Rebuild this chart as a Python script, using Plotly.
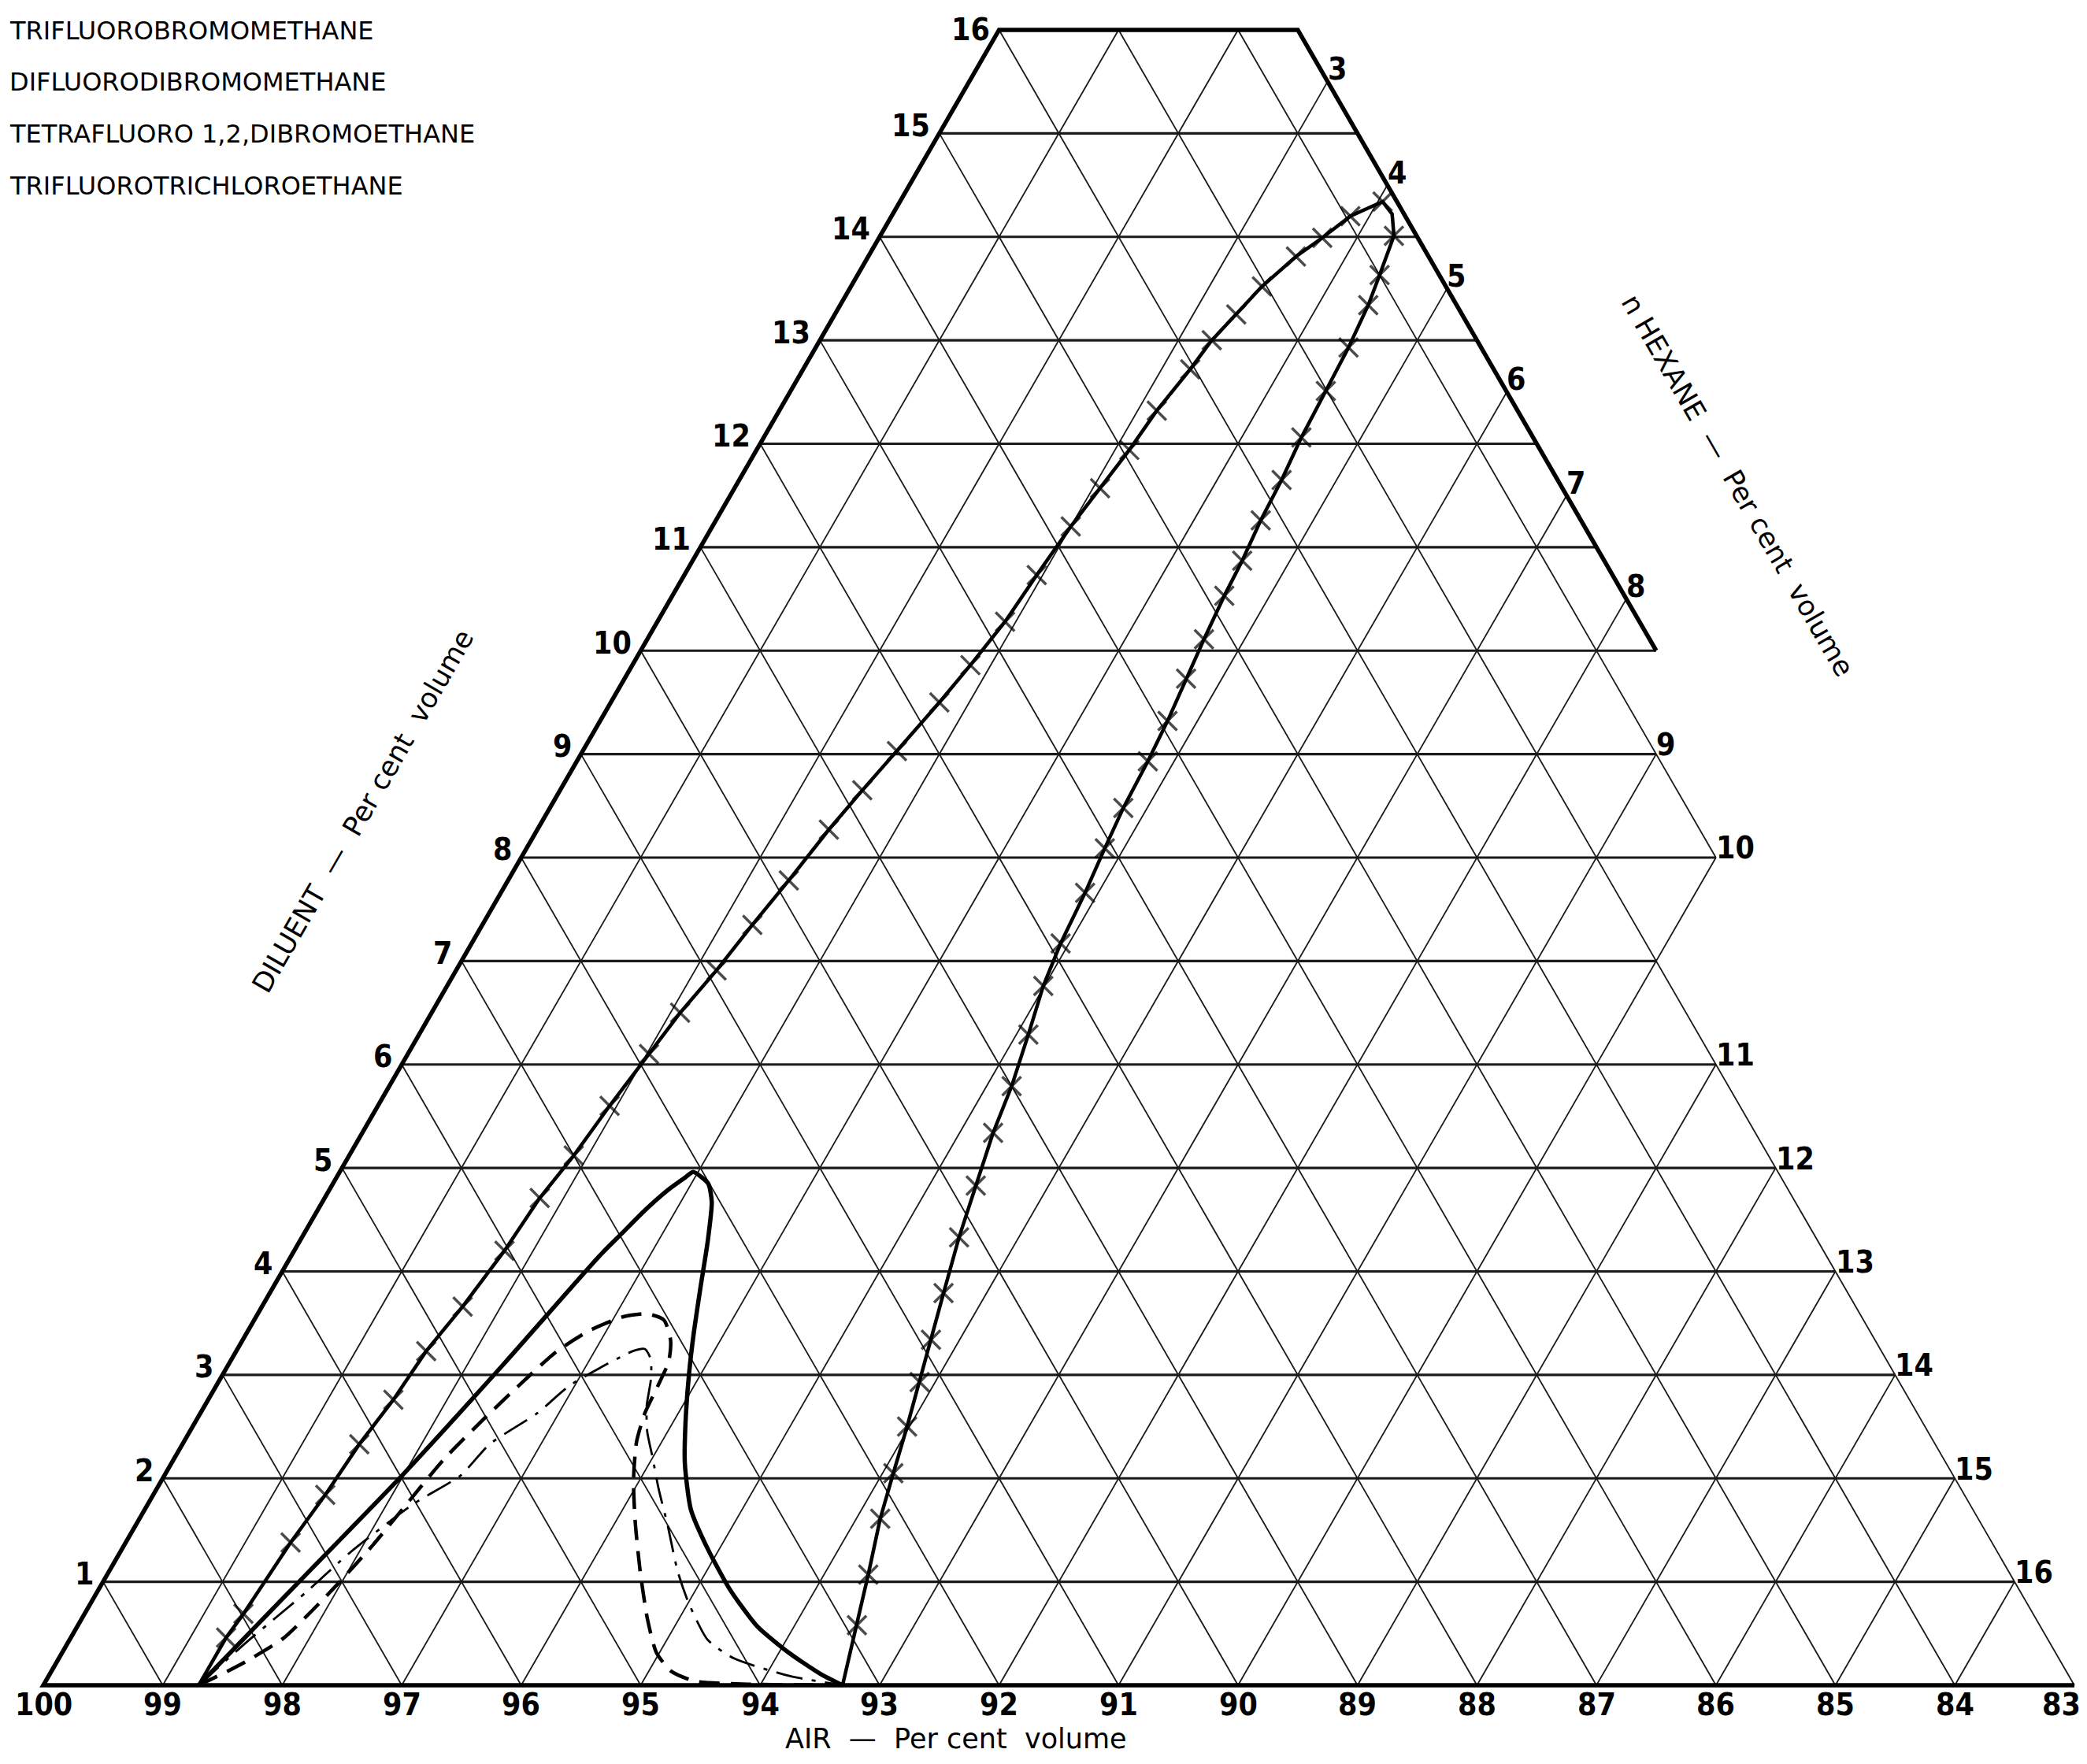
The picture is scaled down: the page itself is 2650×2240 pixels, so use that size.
import numpy as np
import plotly.graph_objects as go

# ---------------- data (ternary compositions, per cent volume) ----------------
air_ticks = list(range(100, 82, -1))            # bottom axis labels 100 ... 83
diluent_ticks = list(range(1, 17))              # left axis labels 1 ... 16
hexane_label_ticks = list(range(3, 17))         # right-hand labels 3 ... 16
grid_hexane = list(range(1, 17))                # constant n-hexane grid lines
grid_air = list(range(82, 100))                 # constant air grid lines
grid_diluent = list(range(1, 16))               # constant diluent grid lines

# outline of the drawn (truncated) diagram
boundary_diluent = [0, 0, 7, 8, 10, 10, 16, 16]
boundary_hexane = [0, 17, 10, 10, 8, 8.5, 2.5, 0]

legend_names = ["TRIFLUOROBROMOMETHANE", "DIFLUORODIBROMOMETHANE",
                "TETRAFLUORO 1,2,DIBROMOETHANE", "TRIFLUOROTRICHLOROETHANE"]

# x-marked envelope (trifluorotrichloroethane)
A_hexane = [1.30, 1.30, 1.33, 1.38, 1.44, 1.48, 1.55, 1.59, 1.68, 1.76, 1.80, 1.88, 1.94, 2.02,
            2.08, 2.18, 2.26, 2.35, 2.44, 2.53, 2.63, 2.75, 2.83, 2.91, 2.95, 3.00, 3.06, 3.12,
            3.16, 3.24, 3.28, 3.36, 3.44, 3.58, 3.71, 3.84, 4.04,
            4.18, 4.30,
            4.37, 4.42, 4.46, 4.48, 4.50, 4.54, 4.56, 4.60, 4.62, 4.66, 4.70, 4.75, 4.78, 4.80,
            4.84, 4.89, 4.93, 4.99, 5.10, 5.21, 5.28, 5.39, 5.50, 5.64, 5.76, 5.87, 5.98, 6.09,
            6.20, 6.37, 6.52, 6.69]
A_diluent = [0, 0.46, 0.69, 1.38, 1.84, 2.33, 2.76, 3.23, 3.66, 4.20, 4.71, 5.12, 5.60, 6.10,
             6.50, 6.91, 7.35, 7.78, 8.27, 8.65, 9.03, 9.50, 9.86, 10.28, 10.73, 11.20, 11.57, 11.94,
             12.32, 12.72, 13.00, 13.25, 13.52, 13.81, 13.99, 14.20, 14.34,
             14.22, 14.01,
             13.63, 13.34, 12.93, 12.51, 12.06, 11.65, 11.26, 10.87, 10.53, 10.11, 9.73, 9.32, 8.93, 8.48,
             8.09, 7.66, 7.17, 6.76, 6.29, 5.79, 5.34, 4.83, 4.33, 3.79, 3.34, 2.93, 2.50, 2.05,
             1.61, 1.07, 0.58, 0]

# solid curve
B_hexane = [1.30, 1.64, 1.99, 2.30, 2.58, 2.66, 2.74, 2.83, 2.92, 2.96, 3.14, 3.26, 3.42, 3.58,
            3.74, 3.90, 4.11, 4.30, 4.57, 4.91, 5.29, 5.69, 6.09, 6.45, 6.69]
B_diluent = [0, 1.00, 2.03, 3.10, 4.15, 4.37, 4.59, 4.78, 4.91, 4.96, 4.85, 4.67, 4.28, 3.84,
             3.41, 3.01, 2.53, 2.14, 1.70, 1.31, 0.92, 0.57, 0.31, 0.11, 0]

# dashed curve
C_hexane = [1.30, 1.55, 1.78, 1.95, 2.08, 2.18, 2.26, 2.41, 2.68, 2.86, 3.07, 3.26, 3.43, 3.58,
            3.67, 3.70, 3.72, 3.79, 3.95, 4.17, 4.44, 4.73, 4.97, 5.18, 5.43, 5.89, 6.69]
C_diluent = [0, 0.20, 0.45, 0.90, 1.35, 1.82, 2.18, 2.60, 3.22, 3.43, 3.56, 3.59, 3.53, 3.34,
             3.13, 2.86, 2.63, 2.35, 1.98, 1.57, 1.11, 0.65, 0.32, 0.14, 0.04, 0.01, 0]

# dash-dot curve
D_hexane = [1.30, 1.49, 1.75, 1.93, 2.22, 2.48, 2.57, 2.82, 2.96, 3.32, 3.41, 3.51, 3.61, 3.70,
            3.83, 4.00, 4.20, 4.45, 4.76, 5.00, 5.34, 5.65, 6.20, 6.69]
D_diluent = [0, 0.41, 0.90, 1.29, 1.75, 2.03, 2.33, 2.63, 2.90, 3.23, 3.25, 3.15, 2.95, 2.70,
             2.45, 2.20, 1.90, 1.55, 1.10, 0.80, 0.44, 0.26, 0.09, 0]

for a, b in [(A_hexane, A_diluent), (B_hexane, B_diluent), (C_hexane, C_diluent), (D_hexane, D_diluent)]:
    assert len(a) == len(b)

# ---------------- geometry helpers ----------------
W, H = 2650, 2240
PX = 151.7          # pixels per composition unit
X0, Y0 = 47, 2132   # pixel position of the 100 % air corner
R3 = np.sqrt(3) / 2
FONT = "DejaVu Sans Condensed, DejaVu Sans, sans-serif"
TXT = "DejaVu Sans, sans-serif"


def to_xy(h, d):
    return h + d / 2.0, d * R3


poly = [to_xy(h, d) for h, d in zip(boundary_hexane, boundary_diluent)]
edges = [(poly[i], poly[(i + 1) % len(poly)]) for i in range(len(poly))]


def cross(a, b):
    return a[0] * b[1] - a[1] * b[0]


def on_boundary(p, eps=1e-7):
    for q0, q1 in edges:
        dx, dy = q1[0] - q0[0], q1[1] - q0[1]
        L2 = dx * dx + dy * dy
        t = max(0, min(1, ((p[0] - q0[0]) * dx + (p[1] - q0[1]) * dy) / L2))
        px, py = q0[0] + t * dx, q0[1] + t * dy
        if (px - p[0]) ** 2 + (py - p[1]) ** 2 < eps:
            return True
    return False


def inside(p):
    x, y = p
    c = False
    for (x1, y1), (x2, y2) in edges:
        if (y1 > y) != (y2 > y):
            xi = x1 + (y - y1) * (x2 - x1) / (y2 - y1)
            if xi > x:
                c = not c
    return c


def clip(p0, p1):
    r = (p1[0] - p0[0], p1[1] - p0[1])
    ts = [0.0, 1.0]
    for q0, q1 in edges:
        s = (q1[0] - q0[0], q1[1] - q0[1])
        den = cross(r, s)
        if abs(den) < 1e-12:
            continue
        qp = (q0[0] - p0[0], q0[1] - p0[1])
        t = cross(qp, s) / den
        u = cross(qp, r) / den
        if -1e-9 <= t <= 1 + 1e-9 and -1e-9 <= u <= 1 + 1e-9:
            ts.append(min(1, max(0, t)))
    ts = sorted(set(round(t, 12) for t in ts))
    segs = []
    for a, b in zip(ts[:-1], ts[1:]):
        if b - a < 1e-9:
            continue
        m = (a + b) / 2
        mp = (p0[0] + m * r[0], p0[1] + m * r[1])
        if inside(mp) or on_boundary(mp):
            if segs and abs(segs[-1][1] - a) < 1e-9:
                segs[-1][1] = b
            else:
                segs.append([a, b])
    return [((p0[0] + a * r[0], p0[1] + a * r[1]), (p0[0] + b * r[0], p0[1] + b * r[1])) for a, b in segs]


def add_segments(xs, ys, segs):
    for (xa, ya), (xb, yb) in segs:
        xs += [xa, xb, None]
        ys += [ya, yb, None]


fig = go.Figure()

# ---------------- grid ----------------
hx, hy = [], []
for d in grid_diluent:
    add_segments(hx, hy, clip(to_xy(-5, d), to_xy(25, d)))

dx_, dy_ = [], []
hex_top = {}
for h in grid_hexane:
    segs = clip(to_xy(h, 0), to_xy(h, 20))
    add_segments(dx_, dy_, segs)
    if segs:
        hex_top[h] = max((p for s in segs for p in s), key=lambda p: p[1])
for a in grid_air:
    s = 100 - a
    add_segments(dx_, dy_, clip(to_xy(s, 0), to_xy(s - 20, 20)))

fig.add_trace(go.Scatter(x=dx_, y=dy_, mode="lines", line=dict(color="#1a1a1a", width=1.8),
                         hoverinfo="skip"))
fig.add_trace(go.Scatter(x=hx, y=hy, mode="lines", line=dict(color="#1a1a1a", width=3.2),
                         hoverinfo="skip"))

# thick outline (bottom, left, top, upper-right edge)
order = [1, 0, 7, 6, 5]
ox = [to_xy(boundary_hexane[i], boundary_diluent[i])[0] for i in order]
oy = [to_xy(boundary_hexane[i], boundary_diluent[i])[1] for i in order]
fig.add_trace(go.Scatter(x=ox, y=oy, mode="lines", line=dict(color="black", width=5.5),
                         hoverinfo="skip"))

# ---------------- curves ----------------
def curve_xy(hs, ds):
    pts = [to_xy(h, d) for h, d in zip(hs, ds)]
    return [p[0] for p in pts], [p[1] for p in pts]


cx, cy = curve_xy(D_hexane, D_diluent)
fig.add_trace(go.Scatter(x=cx, y=cy, mode="lines", name=legend_names[2],
                         line=dict(color="black", width=2.8, dash="34px,12px,5px,12px",
                                   shape="spline", smoothing=0.6)))
cx, cy = curve_xy(C_hexane, C_diluent)
fig.add_trace(go.Scatter(x=cx, y=cy, mode="lines", name=legend_names[1],
                         line=dict(color="black", width=4.5, dash="26px,14px",
                                   shape="spline", smoothing=0.6)))
cx, cy = curve_xy(B_hexane, B_diluent)
fig.add_trace(go.Scatter(x=cx, y=cy, mode="lines", name=legend_names[0],
                         line=dict(color="black", width=5.5, shape="spline", smoothing=0.6)))
cx, cy = curve_xy(A_hexane, A_diluent)
msize = [0 if (i == 0 or i == len(A_hexane) - 1 or i == 37) else 24 for i in range(len(A_hexane))]
fig.add_trace(go.Scatter(x=cx, y=cy, mode="lines+markers", name=legend_names[3],
                         line=dict(color="black", width=4.5),
                         marker=dict(symbol="x-thin", size=msize, color="black",
                                     line=dict(color="black", width=3.5))))

# ---------------- labels ----------------
num_font = dict(size=39, family=FONT, color="black", weight="bold")
ann = []
for a in air_ticks:
    x, y = to_xy(100 - a, 0)
    ann.append(dict(x=x, y=y, text=str(a), showarrow=False, yshift=-24,
                    xanchor="center", xshift=(-16 if a == air_ticks[-1] else 0),
                    yanchor="middle", font=num_font))
for d in diluent_ticks:
    x, y = to_xy(0, d)
    ann.append(dict(x=x, y=y, text=str(d), showarrow=False, xanchor="right", xshift=-10,
                    yanchor="middle", yshift=(0 if d == diluent_ticks[-1] else 10), font=num_font))
for h in hexane_label_ticks:
    x, y = hex_top[h]
    ann.append(dict(x=x, y=y, text=str(h), showarrow=False, xanchor="left", xshift=-2,
                    yanchor="middle", yshift=(16 if h <= 8 else 12), font=num_font))

# axis titles
title_font = dict(size=35, family=TXT, color="black")
tx, ty = to_xy(100 - 92.1, -0.52)
ann.append(dict(x=tx, y=ty, text="AIR  —  Per cent  volume", showarrow=False, font=title_font))
tx, ty = to_xy(-1.55, 8.45)
ann.append(dict(x=tx, y=ty, text="DILUENT  —  Per cent  volume", showarrow=False, textangle=-60,
                font=title_font))
tx, ty = to_xy(8.38, 11.6)
ann.append(dict(x=tx, y=ty, text="n HEXANE  —  Per cent  volume", showarrow=False, textangle=60,
                font=title_font))

# legend text (top-left)
legend_y_px = [31, 96, 162, 228]
for name, ypx in zip(legend_names, legend_y_px):
    ann.append(dict(x=2 / W, y=1 - ypx / H, xref="paper", yref="paper", text=name,
                    showarrow=False, xanchor="left", yanchor="middle",
                    font=dict(size=32, family=TXT, color="black")))

fig.update_layout(
    width=W, height=H, margin=dict(l=0, r=0, t=0, b=0),
    paper_bgcolor="white", plot_bgcolor="white", showlegend=False,
    xaxis=dict(range=[-X0 / PX, (W - X0) / PX], visible=False, fixedrange=True),
    yaxis=dict(range=[(Y0 - H) / PX, Y0 / PX], visible=False, fixedrange=True),
    annotations=ann,
)

fig.write_html("out.html")
